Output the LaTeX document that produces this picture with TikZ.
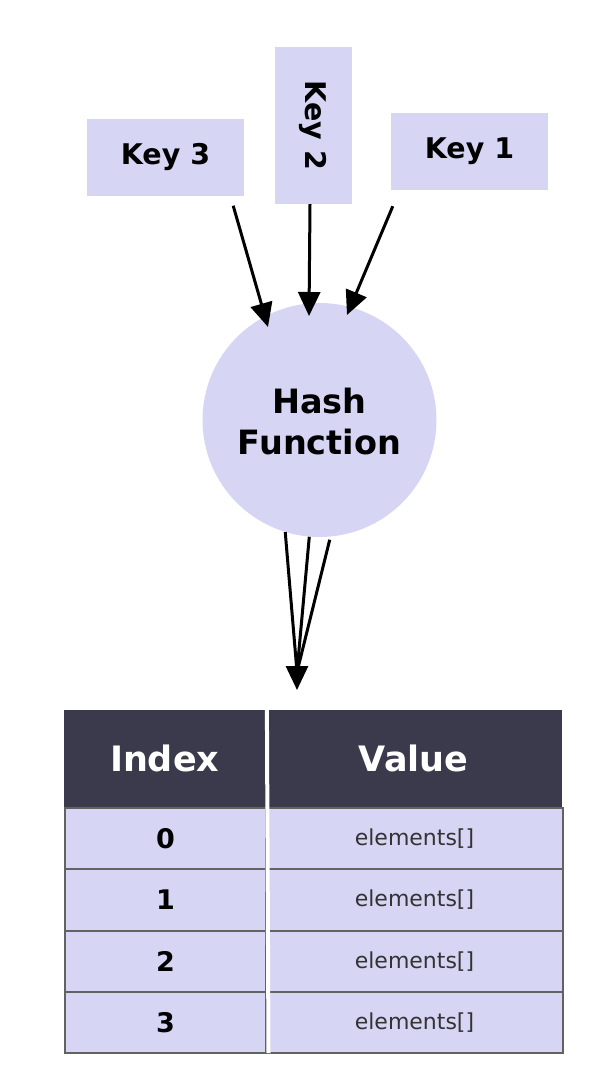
\documentclass[tikz,border=0pt]{standalone}
\usepackage{fontspec}
\setmainfont{DejaVu Sans}
\usetikzlibrary{arrows.meta,calc}
\definecolor{lav}{HTML}{D6D6F4}
\definecolor{hdr}{HTML}{3A3A4C}
\definecolor{gridc}{HTML}{626262}
\definecolor{valtxt}{HTML}{333333}
\begin{document}
\begin{tikzpicture}[x=1pt,y=-1pt,
  keybox/.style={fill=lav, inner sep=0pt, minimum width=157pt, minimum height=77pt,
    font=\fontsize{28.5}{32}\selectfont\bfseries},
  hashnode/.style={circle, fill=lav, inner sep=0pt, minimum size=234pt, align=center,
    font=\fontsize{33.5}{41}\selectfont\bfseries},
  arr/.style={line width=3pt, -{Triangle[length=24pt,width=22pt]}},
  plainline/.style={line width=3pt},
  hcell/.style={fill=hdr, text=white, inner sep=0pt, minimum height=97pt, anchor=north west,
    font=\fontsize{35}{40}\selectfont\bfseries},
  icell/.style={fill=lav, draw=gridc, line width=2pt, inner sep=0pt, minimum width=201pt,
    minimum height=61.25pt, anchor=north west, font=\fontsize{27}{30}\selectfont\bfseries},
  vcell/.style={fill=lav, draw=gridc, line width=2pt, inner sep=0pt, minimum width=297pt,
    minimum height=61.25pt, anchor=north west, text=valtxt, font=\fontsize{22}{26}\selectfont},
  divider/.style={white, line width=4pt}
]
\useasboundingbox (0,0) rectangle (592,1076);

% keys
\node[keybox] (k3) at (165.5,157) {Key 3};
\node[keybox, rotate=-90] (k2) at (313,125.5) {Key 2};
\node[keybox] (k1) at (469.5,151.5) {Key 1};

% hash function
\node[hashnode] (hash) at (319.5,420) {\raisebox{-6pt}[\height][\depth]{\begin{tabular}{@{}c@{}}Hash\\Function\end{tabular}}};

% arrow coordinates
\coordinate (s3) at ($(k3.south east)+(-11,10)$);
\coordinate (t3) at (268,327);
\coordinate (s2) at ($(k2.east)+(-3,0)$);
\coordinate (t2) at (309,316);
\coordinate (s1) at ($(k1.south west)+(2,16)$);
\coordinate (t1) at (347,315);
\draw[arr] (s3) -- (t3);
\draw[arr] (s2) -- (t2);
\draw[arr] (s1) -- (t1);

% outgoing
\coordinate (join) at (297,672);
\coordinate (tip) at (297,690);
\draw[plainline] (hash.253.7) -- (join);
\draw[plainline] (hash.265) -- (join);
\draw[plainline] ($(hash.275)+(0,3)$) -- (join);
\draw[arr] ($(join)+(0,-6)$) -- (tip);

% table
\node[hcell, minimum width=201pt] (hi) at (64,710) {Index};
\node[hcell, minimum width=297pt] (hv) at (265,710) {Value};
\node[icell] (i0) at (64,807) {0};
\node[vcell] (v0) at (265,807) {elements[]};
\node[icell] (i1) at (64,868.25) {1};
\node[vcell] (v1) at (265,868.25) {elements[]};
\node[icell] (i2) at (64,929.5) {2};
\node[vcell] (v2) at (265,929.5) {elements[]};
\node[icell] (i3) at (64,990.75) {3};
\node[vcell] (v3) at (265,990.75) {elements[]};
\draw[divider] ($(hi.north east)+(1.5,0)$) -- ($(i3.south east)+(1.5,-1)$);
\end{tikzpicture}
\end{document}
